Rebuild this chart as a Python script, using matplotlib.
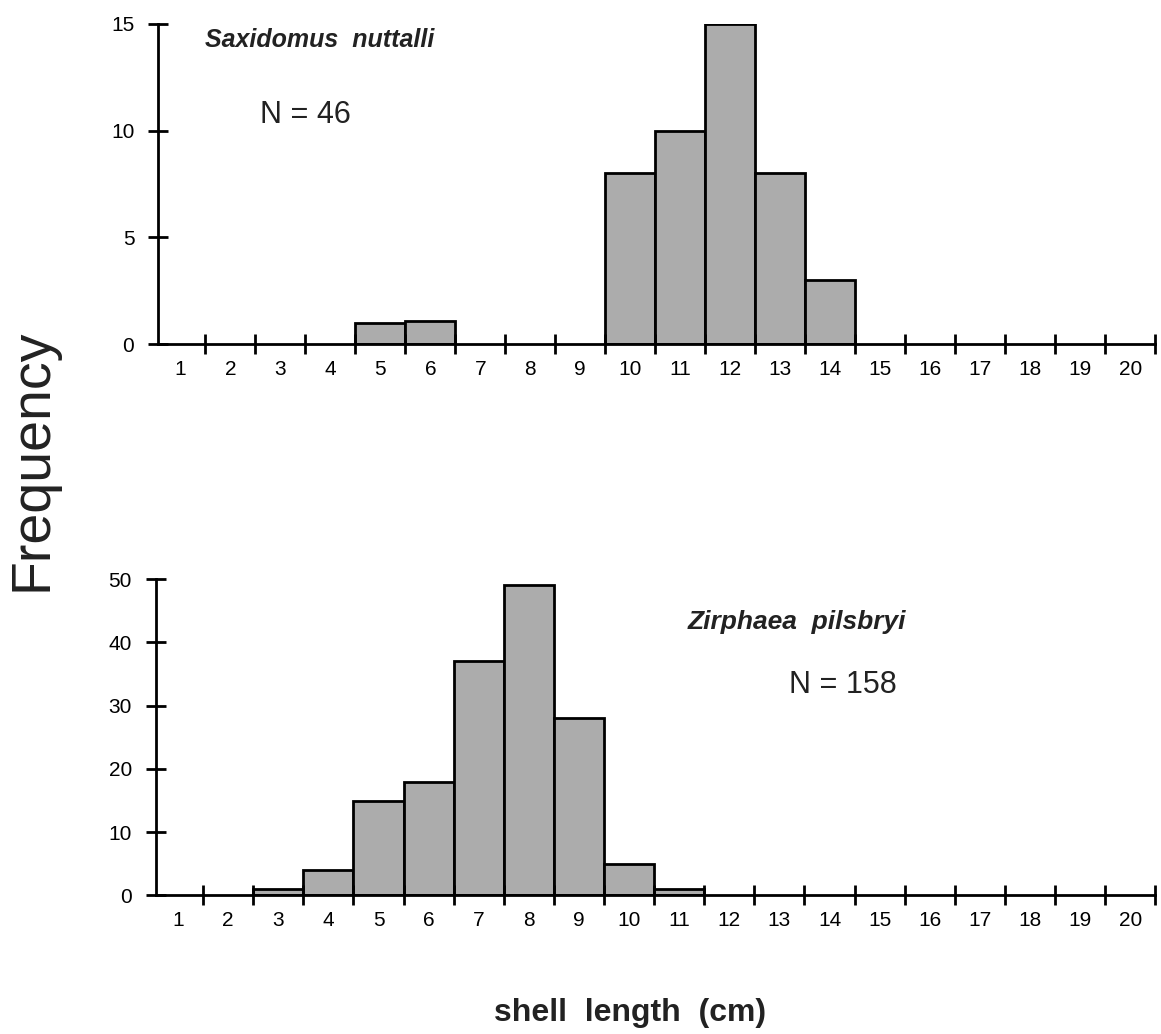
import numpy as np
import matplotlib
matplotlib.use("Agg")
import matplotlib.pyplot as plt
from matplotlib.ticker import MultipleLocator

plt.rcParams['font.family'] = ['Liberation Sans', 'DejaVu Sans']

# shell length classes (cm)
lengths = list(range(1, 21))

# Saxidomus nuttalli, N = 46
sax_bins = [5, 6, 10, 11, 12, 13, 14]
sax_freq = [1, 1.1, 8, 10, 15, 8, 3]

# Zirphaea pilsbryi, N = 158
zir_bins = [3, 4, 5, 6, 7, 8, 9, 10, 11]
zir_freq = [1, 4, 15, 18, 37, 49, 28, 5, 1]

bar_color = '#acacac'

fig = plt.figure(figsize=(11.61, 10.34), dpi=100)
ax1 = fig.add_axes([0.136, 0.667, 0.859, 0.310])
ax2 = fig.add_axes([0.134, 0.134, 0.861, 0.306])


def style(ax, ymax, ystep):
    for s in ['top', 'right']:
        ax.spines[s].set_visible(False)
    for s in ['left', 'bottom']:
        ax.spines[s].set_linewidth(2)
    ax.set_xlim(0.55, 20.5)
    ax.set_ylim(0, ymax)
    ax.set_xticks(lengths)
    ax.set_xticklabels([str(v) for v in lengths], fontsize=15)
    ax.xaxis.set_minor_locator(MultipleLocator(1, offset=0.5))
    ax.tick_params(axis='x', which='major', length=0, pad=11)
    ax.tick_params(axis='x', which='minor', direction='inout', length=14, width=2)
    ax.set_yticks(np.arange(0, ymax + 1, ystep))
    ax.tick_params(axis='y', direction='inout', length=14, width=2, labelsize=15, pad=10)


ax1.bar(sax_bins, sax_freq, width=1.0, color=bar_color, edgecolor='black', linewidth=2)
style(ax1, 15, 5)

ax2.bar(zir_bins, zir_freq, width=1.0, color=bar_color, edgecolor='black', linewidth=2)
style(ax2, 50, 10)

fig.text(320 / 1161, 1 - 40 / 1034, 'Saxidomus  nuttalli', fontsize=18, fontweight='bold',
         style='italic', ha='center', va='center', color='#222222')
fig.text(305 / 1161, 1 - 115 / 1034, 'N = 46', fontsize=22, ha='center', va='center',
         color='#222222')
fig.text(797 / 1161, 1 - 622 / 1034, 'Zirphaea  pilsbryi', fontsize=19, fontweight='bold',
         style='italic', ha='center', va='center', color='#222222')
fig.text(843 / 1161, 1 - 685 / 1034, 'N = 158', fontsize=22, ha='center', va='center',
         color='#222222')

fig.text(33 / 1161, 1 - 460 / 1034, 'Frequency', fontsize=40, rotation=90,
         ha='center', va='center', color='#222222')
fig.text(630 / 1161, 1 - 1013 / 1034, 'shell  length  (cm)', fontsize=23, fontweight='bold',
         ha='center', va='center', color='#222222')

fig.savefig('out.png', dpi=100)
